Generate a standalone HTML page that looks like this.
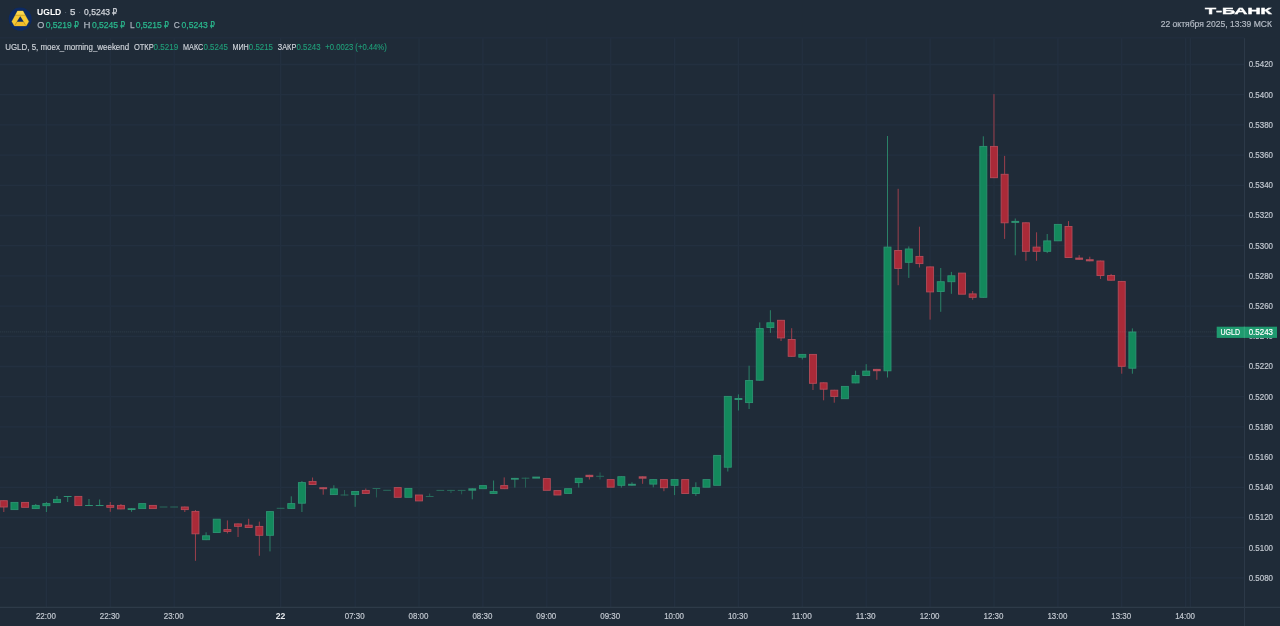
<!DOCTYPE html>
<html lang="ru">
<head>
<meta charset="utf-8">
<title>UGLD · 5 · Т-Банк</title>
<style>
html,body{margin:0;padding:0;background:#1f2b38;}
body{width:1280px;height:626px;overflow:hidden;position:relative;font-family:"Liberation Sans",sans-serif;color:#fff;}
svg{position:absolute;left:0;top:0;display:block;}
svg text{font-family:"Liberation Sans","DejaVu Sans",sans-serif;}
.rub{font-family:"DejaVu Sans",sans-serif;font-size:8.9px;}
svg{will-change:transform;}
.sym{fill:#fff;font-weight:bold;}
.dot{fill:#5a6573;}
.val{fill:#d3d7dd;stroke:#d3d7dd;stroke-width:0.25px;}
.lab{fill:#a9b1bb;stroke:#a9b1bb;stroke-width:0.25px;}
.up{fill:#2ab88d;stroke:#2ab88d;stroke-width:0.25px;}
.lab2{fill:#d0d5db;stroke:#d0d5db;stroke-width:0.15px;}
.up2{fill:#21a07a;stroke:#21a07a;stroke-width:0.1px;}
.brand{fill:#fff;font-weight:bold;stroke:#fff;stroke-width:0.35px;}
.date{fill:#b3bac4;stroke:#b3bac4;stroke-width:0.2px;}
</style>
</head>
<body>
<svg class="chart" width="1280" height="626" viewBox="0 0 1280 626">
<g class="grid" stroke="#233040" stroke-width="1.3">
<line x1="0" y1="64.5" x2="1244.5" y2="64.5"/>
<line x1="0" y1="94.7" x2="1244.5" y2="94.7"/>
<line x1="0" y1="124.9" x2="1244.5" y2="124.9"/>
<line x1="0" y1="155.1" x2="1244.5" y2="155.1"/>
<line x1="0" y1="185.3" x2="1244.5" y2="185.3"/>
<line x1="0" y1="215.5" x2="1244.5" y2="215.5"/>
<line x1="0" y1="245.7" x2="1244.5" y2="245.7"/>
<line x1="0" y1="275.9" x2="1244.5" y2="275.9"/>
<line x1="0" y1="306.1" x2="1244.5" y2="306.1"/>
<line x1="0" y1="336.3" x2="1244.5" y2="336.3"/>
<line x1="0" y1="366.5" x2="1244.5" y2="366.5"/>
<line x1="0" y1="396.7" x2="1244.5" y2="396.7"/>
<line x1="0" y1="426.9" x2="1244.5" y2="426.9"/>
<line x1="0" y1="457.1" x2="1244.5" y2="457.1"/>
<line x1="0" y1="487.3" x2="1244.5" y2="487.3"/>
<line x1="0" y1="517.5" x2="1244.5" y2="517.5"/>
<line x1="0" y1="547.7" x2="1244.5" y2="547.7"/>
<line x1="0" y1="577.9" x2="1244.5" y2="577.9"/>
<line x1="46.4" y1="38" x2="46.4" y2="607.3"/>
<line x1="110.3" y1="38" x2="110.3" y2="607.3"/>
<line x1="174.2" y1="38" x2="174.2" y2="607.3"/>
<line x1="280.6" y1="38" x2="280.6" y2="607.3"/>
<line x1="355.2" y1="38" x2="355.2" y2="607.3"/>
<line x1="419.0" y1="38" x2="419.0" y2="607.3"/>
<line x1="482.9" y1="38" x2="482.9" y2="607.3"/>
<line x1="546.8" y1="38" x2="546.8" y2="607.3"/>
<line x1="610.7" y1="38" x2="610.7" y2="607.3"/>
<line x1="674.6" y1="38" x2="674.6" y2="607.3"/>
<line x1="738.4" y1="38" x2="738.4" y2="607.3"/>
<line x1="802.3" y1="38" x2="802.3" y2="607.3"/>
<line x1="866.2" y1="38" x2="866.2" y2="607.3"/>
<line x1="930.1" y1="38" x2="930.1" y2="607.3"/>
<line x1="994.0" y1="38" x2="994.0" y2="607.3"/>
<line x1="1057.9" y1="38" x2="1057.9" y2="607.3"/>
<line x1="1121.7" y1="38" x2="1121.7" y2="607.3"/>
<line x1="1185.6" y1="38" x2="1185.6" y2="607.3"/>
<line x1="1190.4" y1="38" x2="1190.4" y2="607.3"/>
</g>
<g class="axes" stroke="#364250" stroke-width="1">
<line x1="0" y1="607.3" x2="1280" y2="607.3" stroke="#33404e"/>
<line x1="1244.5" y1="38" x2="1244.5" y2="626" stroke="#2c3948"/>
<line x1="0" y1="37.9" x2="1244.5" y2="37.9" stroke="#233040"/>
</g>
<g class="candles">
<g><rect x="3.30" y="500.3" width="1" height="11.7" fill="#9c3f4c"/><rect x="0.30" y="500.7" width="7" height="6.3" fill="#aa2a38" stroke="#b44c5a" stroke-width="0.9"/></g>
<g><rect x="10.95" y="502.4" width="7" height="7.2" fill="#13895c" stroke="#2e9373" stroke-width="0.9"/></g>
<g><rect x="21.59" y="502.4" width="7" height="4.9" fill="#aa2a38" stroke="#b44c5a" stroke-width="0.9"/></g>
<g><rect x="35.24" y="504.0" width="1" height="5.0" fill="#2a8267"/><rect x="32.24" y="505.4" width="7" height="3.2" fill="#13895c" stroke="#2e9373" stroke-width="0.9"/></g>
<g><rect x="45.89" y="502.0" width="1" height="10.0" fill="#2a8267"/><rect x="42.89" y="503.6" width="7" height="2.1" fill="#13895c" stroke="#2e9373" stroke-width="0.9"/></g>
<g><rect x="56.53" y="496.0" width="1" height="7.0" fill="#2a8267"/><rect x="53.53" y="499.4" width="7" height="3.2" fill="#13895c" stroke="#2e9373" stroke-width="0.9"/></g>
<g><rect x="67.18" y="496.0" width="1" height="6.0" fill="#2a8267"/><rect x="63.78" y="496.0" width="7.8" height="1.0" fill="#2e9373"/></g>
<g><rect x="74.83" y="496.4" width="7" height="9.2" fill="#aa2a38" stroke="#b44c5a" stroke-width="0.9"/></g>
<g><rect x="88.48" y="499.0" width="1" height="7.0" fill="#2a8267"/><rect x="85.08" y="505.0" width="7.8" height="1.0" fill="#2e9373"/></g>
<g><rect x="99.12" y="499.5" width="1" height="6.5" fill="#2a8267"/><rect x="95.72" y="505.0" width="7.8" height="1.0" fill="#2e9373"/></g>
<g><rect x="109.77" y="502.0" width="1" height="9.8" fill="#9c3f4c"/><rect x="106.77" y="505.4" width="7" height="1.9" fill="#aa2a38" stroke="#b44c5a" stroke-width="0.9"/></g>
<g><rect x="120.42" y="504.0" width="1" height="5.3" fill="#9c3f4c"/><rect x="117.42" y="505.4" width="7" height="3.5" fill="#aa2a38" stroke="#b44c5a" stroke-width="0.9"/></g>
<g><rect x="131.06" y="508.2" width="1" height="3.6" fill="#2a8267"/><rect x="127.66" y="508.2" width="7.8" height="1.8" fill="#2e9373"/></g>
<g><rect x="138.71" y="503.6" width="7" height="5.0" fill="#13895c" stroke="#2e9373" stroke-width="0.9"/></g>
<g><rect x="149.36" y="505.4" width="7" height="3.2" fill="#aa2a38" stroke="#b44c5a" stroke-width="0.9"/></g>
<g opacity="0.62"><rect x="159.61" y="506.5" width="7.8" height="1.0" fill="#2e9373"/></g>
<g opacity="0.62"><rect x="170.25" y="506.5" width="7.8" height="1.0" fill="#2e9373"/></g>
<g><rect x="184.30" y="506.6" width="1" height="5.4" fill="#9c3f4c"/><rect x="181.30" y="507.0" width="7" height="2.6" fill="#aa2a38" stroke="#b44c5a" stroke-width="0.9"/></g>
<g><rect x="194.95" y="510.0" width="1" height="50.8" fill="#9c3f4c"/><rect x="191.95" y="511.4" width="7" height="22.4" fill="#aa2a38" stroke="#b44c5a" stroke-width="0.9"/></g>
<g><rect x="205.59" y="532.3" width="1" height="7.8" fill="#2a8267"/><rect x="202.59" y="535.8" width="7" height="3.9" fill="#13895c" stroke="#2e9373" stroke-width="0.9"/></g>
<g><rect x="213.24" y="519.2" width="7" height="13.3" fill="#13895c" stroke="#2e9373" stroke-width="0.9"/></g>
<g><rect x="226.89" y="520.4" width="1" height="13.0" fill="#9c3f4c"/><rect x="223.89" y="529.6" width="7" height="1.8" fill="#aa2a38" stroke="#b44c5a" stroke-width="0.9"/></g>
<g><rect x="237.53" y="523.5" width="1" height="13.5" fill="#9c3f4c"/><rect x="234.53" y="523.9" width="7" height="2.4" fill="#aa2a38" stroke="#b44c5a" stroke-width="0.9"/></g>
<g><rect x="248.18" y="518.8" width="1" height="9.1" fill="#9c3f4c"/><rect x="245.18" y="525.2" width="7" height="2.3" fill="#aa2a38" stroke="#b44c5a" stroke-width="0.9"/></g>
<g><rect x="258.83" y="521.6" width="1" height="34.2" fill="#9c3f4c"/><rect x="255.83" y="526.4" width="7" height="8.9" fill="#aa2a38" stroke="#b44c5a" stroke-width="0.9"/></g>
<g><rect x="269.48" y="511.2" width="1" height="40.2" fill="#2a8267"/><rect x="266.48" y="511.6" width="7" height="23.7" fill="#13895c" stroke="#2e9373" stroke-width="0.9"/></g>
<g opacity="0.62"><rect x="276.72" y="507.8" width="7.8" height="1.0" fill="#2e9373"/></g>
<g><rect x="290.77" y="496.3" width="1" height="12.5" fill="#2a8267"/><rect x="287.77" y="503.6" width="7" height="4.8" fill="#13895c" stroke="#2e9373" stroke-width="0.9"/></g>
<g><rect x="301.42" y="481.0" width="1" height="31.0" fill="#2a8267"/><rect x="298.42" y="482.6" width="7" height="20.6" fill="#13895c" stroke="#2e9373" stroke-width="0.9"/></g>
<g><rect x="312.06" y="477.5" width="1" height="7.4" fill="#9c3f4c"/><rect x="309.06" y="481.4" width="7" height="3.1" fill="#aa2a38" stroke="#b44c5a" stroke-width="0.9"/></g>
<g><rect x="322.71" y="487.2" width="1" height="7.5" fill="#9c3f4c"/><rect x="319.31" y="487.2" width="7.8" height="2.0" fill="#b44c5a"/></g>
<g><rect x="333.36" y="485.3" width="1" height="9.7" fill="#2a8267"/><rect x="330.36" y="488.9" width="7" height="5.7" fill="#13895c" stroke="#2e9373" stroke-width="0.9"/></g>
<g opacity="0.62"><rect x="344.00" y="490.0" width="1" height="5.5" fill="#2a8267"/><rect x="340.60" y="494.5" width="7.8" height="1.0" fill="#2e9373"/></g>
<g><rect x="354.65" y="491.1" width="1" height="15.7" fill="#2a8267"/><rect x="351.65" y="491.5" width="7" height="3.1" fill="#13895c" stroke="#2e9373" stroke-width="0.9"/></g>
<g><rect x="365.30" y="488.5" width="1" height="5.3" fill="#9c3f4c"/><rect x="362.30" y="490.4" width="7" height="3.0" fill="#aa2a38" stroke="#b44c5a" stroke-width="0.9"/></g>
<g opacity="0.62"><rect x="375.94" y="488.0" width="1" height="9.4" fill="#2a8267"/><rect x="372.55" y="488.0" width="7.8" height="1.0" fill="#2e9373"/></g>
<g opacity="0.62"><rect x="383.19" y="489.8" width="7.8" height="1.0" fill="#2e9373"/></g>
<g><rect x="394.24" y="487.6" width="7" height="9.7" fill="#aa2a38" stroke="#b44c5a" stroke-width="0.9"/></g>
<g><rect x="404.89" y="488.4" width="7" height="8.9" fill="#13895c" stroke="#2e9373" stroke-width="0.9"/></g>
<g><rect x="415.53" y="495.0" width="7" height="5.9" fill="#aa2a38" stroke="#b44c5a" stroke-width="0.9"/></g>
<g opacity="0.62"><rect x="429.18" y="493.5" width="1" height="3.5" fill="#2a8267"/><rect x="425.78" y="496.0" width="7.8" height="1.0" fill="#2e9373"/></g>
<g opacity="0.62"><rect x="436.43" y="489.9" width="7.8" height="1.0" fill="#2e9373"/></g>
<g opacity="0.62"><rect x="450.47" y="489.9" width="1" height="3.1" fill="#2a8267"/><rect x="447.07" y="489.9" width="7.8" height="1.0" fill="#2e9373"/></g>
<g opacity="0.62"><rect x="461.12" y="489.9" width="1" height="4.4" fill="#2a8267"/><rect x="457.72" y="489.9" width="7.8" height="1.0" fill="#2e9373"/></g>
<g><rect x="471.77" y="488.3" width="1" height="11.0" fill="#2a8267"/><rect x="468.37" y="488.3" width="7.8" height="2.4" fill="#2e9373"/></g>
<g><rect x="479.42" y="485.6" width="7" height="3.1" fill="#13895c" stroke="#2e9373" stroke-width="0.9"/></g>
<g><rect x="493.06" y="480.5" width="1" height="13.3" fill="#2a8267"/><rect x="490.06" y="491.6" width="7" height="1.8" fill="#13895c" stroke="#2e9373" stroke-width="0.9"/></g>
<g><rect x="503.71" y="477.4" width="1" height="11.7" fill="#9c3f4c"/><rect x="500.71" y="485.6" width="7" height="3.1" fill="#aa2a38" stroke="#b44c5a" stroke-width="0.9"/></g>
<g><rect x="514.36" y="477.9" width="1" height="9.7" fill="#2a8267"/><rect x="510.96" y="477.9" width="7.8" height="1.8" fill="#2e9373"/></g>
<g opacity="0.62"><rect x="525.00" y="477.7" width="1" height="9.9" fill="#2a8267"/><rect x="521.60" y="477.7" width="7.8" height="1.0" fill="#2e9373"/></g>
<g><rect x="532.25" y="476.6" width="7.8" height="2.0" fill="#2e9373"/></g>
<g><rect x="543.30" y="478.6" width="7" height="11.7" fill="#aa2a38" stroke="#b44c5a" stroke-width="0.9"/></g>
<g><rect x="553.94" y="490.6" width="7" height="4.4" fill="#aa2a38" stroke="#b44c5a" stroke-width="0.9"/></g>
<g><rect x="564.59" y="488.7" width="7" height="4.7" fill="#13895c" stroke="#2e9373" stroke-width="0.9"/></g>
<g><rect x="578.24" y="477.9" width="1" height="9.7" fill="#2a8267"/><rect x="575.24" y="478.3" width="7" height="4.3" fill="#13895c" stroke="#2e9373" stroke-width="0.9"/></g>
<g><rect x="588.88" y="474.8" width="1" height="4.7" fill="#9c3f4c"/><rect x="585.49" y="474.8" width="7.8" height="2.3" fill="#b44c5a"/></g>
<g opacity="0.62"><rect x="599.53" y="472.4" width="1" height="7.1" fill="#2a8267"/><rect x="596.13" y="475.8" width="7.8" height="1.0" fill="#2e9373"/></g>
<g><rect x="607.18" y="479.6" width="7" height="7.6" fill="#aa2a38" stroke="#b44c5a" stroke-width="0.9"/></g>
<g><rect x="620.83" y="476.3" width="1" height="11.3" fill="#2a8267"/><rect x="617.83" y="476.7" width="7" height="8.6" fill="#13895c" stroke="#2e9373" stroke-width="0.9"/></g>
<g><rect x="631.47" y="482.3" width="1" height="3.4" fill="#2a8267"/><rect x="628.07" y="483.8" width="7.8" height="1.9" fill="#2e9373"/></g>
<g><rect x="642.12" y="476.3" width="1" height="7.5" fill="#9c3f4c"/><rect x="638.72" y="476.3" width="7.8" height="2.4" fill="#b44c5a"/></g>
<g><rect x="652.77" y="479.2" width="1" height="8.1" fill="#2a8267"/><rect x="649.77" y="479.6" width="7" height="4.5" fill="#13895c" stroke="#2e9373" stroke-width="0.9"/></g>
<g><rect x="663.41" y="479.2" width="1" height="12.0" fill="#9c3f4c"/><rect x="660.41" y="479.6" width="7" height="8.1" fill="#aa2a38" stroke="#b44c5a" stroke-width="0.9"/></g>
<g><rect x="674.06" y="479.2" width="1" height="15.9" fill="#2a8267"/><rect x="671.06" y="479.6" width="7" height="5.7" fill="#13895c" stroke="#2e9373" stroke-width="0.9"/></g>
<g><rect x="681.71" y="479.6" width="7" height="13.9" fill="#aa2a38" stroke="#b44c5a" stroke-width="0.9"/></g>
<g><rect x="695.36" y="482.3" width="1" height="13.6" fill="#2a8267"/><rect x="692.36" y="487.7" width="7" height="5.8" fill="#13895c" stroke="#2e9373" stroke-width="0.9"/></g>
<g><rect x="703.00" y="479.6" width="7" height="7.6" fill="#13895c" stroke="#2e9373" stroke-width="0.9"/></g>
<g><rect x="713.65" y="455.4" width="7" height="29.9" fill="#13895c" stroke="#2e9373" stroke-width="0.9"/></g>
<g><rect x="727.30" y="396.0" width="1" height="75.5" fill="#2a8267"/><rect x="724.30" y="396.4" width="7" height="70.8" fill="#13895c" stroke="#2e9373" stroke-width="0.9"/></g>
<g><rect x="737.94" y="394.4" width="1" height="16.1" fill="#2a8267"/><rect x="734.54" y="398.0" width="7.8" height="2.0" fill="#2e9373"/></g>
<g><rect x="748.59" y="365.7" width="1" height="43.3" fill="#2a8267"/><rect x="745.59" y="380.5" width="7" height="22.1" fill="#13895c" stroke="#2e9373" stroke-width="0.9"/></g>
<g><rect x="759.24" y="322.4" width="1" height="58.2" fill="#2a8267"/><rect x="756.24" y="328.6" width="7" height="51.6" fill="#13895c" stroke="#2e9373" stroke-width="0.9"/></g>
<g><rect x="769.88" y="310.2" width="1" height="22.7" fill="#2a8267"/><rect x="766.88" y="322.8" width="7" height="4.7" fill="#13895c" stroke="#2e9373" stroke-width="0.9"/></g>
<g><rect x="780.53" y="319.9" width="1" height="21.1" fill="#9c3f4c"/><rect x="777.53" y="320.3" width="7" height="17.6" fill="#aa2a38" stroke="#b44c5a" stroke-width="0.9"/></g>
<g><rect x="791.18" y="328.2" width="1" height="28.5" fill="#9c3f4c"/><rect x="788.18" y="339.5" width="7" height="16.8" fill="#aa2a38" stroke="#b44c5a" stroke-width="0.9"/></g>
<g><rect x="801.82" y="354.0" width="1" height="5.5" fill="#2a8267"/><rect x="798.82" y="354.4" width="7" height="2.8" fill="#13895c" stroke="#2e9373" stroke-width="0.9"/></g>
<g><rect x="812.47" y="354.0" width="1" height="36.0" fill="#9c3f4c"/><rect x="809.47" y="354.4" width="7" height="28.9" fill="#aa2a38" stroke="#b44c5a" stroke-width="0.9"/></g>
<g><rect x="823.12" y="382.4" width="1" height="17.9" fill="#9c3f4c"/><rect x="820.12" y="382.8" width="7" height="6.4" fill="#aa2a38" stroke="#b44c5a" stroke-width="0.9"/></g>
<g><rect x="833.77" y="389.8" width="1" height="12.9" fill="#9c3f4c"/><rect x="830.77" y="390.2" width="7" height="6.2" fill="#aa2a38" stroke="#b44c5a" stroke-width="0.9"/></g>
<g><rect x="841.41" y="386.4" width="7" height="12.3" fill="#13895c" stroke="#2e9373" stroke-width="0.9"/></g>
<g><rect x="855.06" y="370.7" width="1" height="12.6" fill="#2a8267"/><rect x="852.06" y="375.5" width="7" height="7.4" fill="#13895c" stroke="#2e9373" stroke-width="0.9"/></g>
<g><rect x="865.71" y="364.2" width="1" height="11.7" fill="#2a8267"/><rect x="862.71" y="371.1" width="7" height="4.4" fill="#13895c" stroke="#2e9373" stroke-width="0.9"/></g>
<g><rect x="876.35" y="368.9" width="1" height="10.9" fill="#9c3f4c"/><rect x="872.95" y="368.9" width="7.8" height="2.3" fill="#b44c5a"/></g>
<g><rect x="887.00" y="136.0" width="1" height="241.5" fill="#2a8267"/><rect x="884.00" y="247.1" width="7" height="123.7" fill="#13895c" stroke="#2e9373" stroke-width="0.9"/></g>
<g><rect x="897.65" y="188.8" width="1" height="96.4" fill="#9c3f4c"/><rect x="894.65" y="250.5" width="7" height="17.9" fill="#aa2a38" stroke="#b44c5a" stroke-width="0.9"/></g>
<g><rect x="908.29" y="246.4" width="1" height="31.5" fill="#2a8267"/><rect x="905.29" y="249.0" width="7" height="13.3" fill="#13895c" stroke="#2e9373" stroke-width="0.9"/></g>
<g><rect x="918.94" y="226.7" width="1" height="40.8" fill="#9c3f4c"/><rect x="915.94" y="256.4" width="7" height="7.2" fill="#aa2a38" stroke="#b44c5a" stroke-width="0.9"/></g>
<g><rect x="929.59" y="266.5" width="1" height="53.1" fill="#9c3f4c"/><rect x="926.59" y="266.9" width="7" height="25.0" fill="#aa2a38" stroke="#b44c5a" stroke-width="0.9"/></g>
<g><rect x="940.24" y="268.0" width="1" height="43.8" fill="#2a8267"/><rect x="937.24" y="281.7" width="7" height="9.8" fill="#13895c" stroke="#2e9373" stroke-width="0.9"/></g>
<g><rect x="950.88" y="271.9" width="1" height="21.9" fill="#2a8267"/><rect x="947.88" y="275.8" width="7" height="5.9" fill="#13895c" stroke="#2e9373" stroke-width="0.9"/></g>
<g><rect x="958.53" y="273.1" width="7" height="21.1" fill="#aa2a38" stroke="#b44c5a" stroke-width="0.9"/></g>
<g><rect x="972.18" y="291.0" width="1" height="8.8" fill="#9c3f4c"/><rect x="969.18" y="293.9" width="7" height="3.4" fill="#aa2a38" stroke="#b44c5a" stroke-width="0.9"/></g>
<g><rect x="982.82" y="136.3" width="1" height="161.4" fill="#2a8267"/><rect x="979.82" y="146.4" width="7" height="150.9" fill="#13895c" stroke="#2e9373" stroke-width="0.9"/></g>
<g><rect x="993.47" y="94.1" width="1" height="84.0" fill="#9c3f4c"/><rect x="990.47" y="146.4" width="7" height="31.3" fill="#aa2a38" stroke="#b44c5a" stroke-width="0.9"/></g>
<g><rect x="1004.12" y="155.9" width="1" height="83.0" fill="#9c3f4c"/><rect x="1001.12" y="174.3" width="7" height="48.5" fill="#aa2a38" stroke="#b44c5a" stroke-width="0.9"/></g>
<g><rect x="1014.76" y="218.5" width="1" height="36.8" fill="#2a8267"/><rect x="1011.37" y="220.9" width="7.8" height="2.0" fill="#2e9373"/></g>
<g><rect x="1025.41" y="222.4" width="1" height="38.4" fill="#9c3f4c"/><rect x="1022.41" y="222.8" width="7" height="28.5" fill="#aa2a38" stroke="#b44c5a" stroke-width="0.9"/></g>
<g><rect x="1036.06" y="232.3" width="1" height="28.5" fill="#9c3f4c"/><rect x="1033.06" y="247.1" width="7" height="4.2" fill="#aa2a38" stroke="#b44c5a" stroke-width="0.9"/></g>
<g><rect x="1046.71" y="234.0" width="1" height="19.1" fill="#2a8267"/><rect x="1043.71" y="240.9" width="7" height="10.4" fill="#13895c" stroke="#2e9373" stroke-width="0.9"/></g>
<g><rect x="1054.35" y="224.4" width="7" height="16.4" fill="#13895c" stroke="#2e9373" stroke-width="0.9"/></g>
<g><rect x="1068.00" y="221.1" width="1" height="36.8" fill="#9c3f4c"/><rect x="1065.00" y="226.5" width="7" height="31.0" fill="#aa2a38" stroke="#b44c5a" stroke-width="0.9"/></g>
<g><rect x="1078.65" y="255.1" width="1" height="4.7" fill="#9c3f4c"/><rect x="1075.25" y="257.6" width="7.8" height="2.2" fill="#b44c5a"/></g>
<g><rect x="1089.29" y="256.7" width="1" height="4.6" fill="#9c3f4c"/><rect x="1085.89" y="259.2" width="7.8" height="2.1" fill="#b44c5a"/></g>
<g><rect x="1099.94" y="260.6" width="1" height="18.4" fill="#9c3f4c"/><rect x="1096.94" y="261.0" width="7" height="14.5" fill="#aa2a38" stroke="#b44c5a" stroke-width="0.9"/></g>
<g><rect x="1110.59" y="273.9" width="1" height="6.7" fill="#9c3f4c"/><rect x="1107.59" y="275.5" width="7" height="4.7" fill="#aa2a38" stroke="#b44c5a" stroke-width="0.9"/></g>
<g><rect x="1121.23" y="281.0" width="1" height="92.7" fill="#9c3f4c"/><rect x="1118.23" y="281.4" width="7" height="84.9" fill="#aa2a38" stroke="#b44c5a" stroke-width="0.9"/></g>
<g><rect x="1131.88" y="328.4" width="1" height="45.3" fill="#2a8267"/><rect x="1128.88" y="332.0" width="7" height="36.2" fill="#13895c" stroke="#2e9373" stroke-width="0.9"/></g>
</g>
<line class="priceline" x1="0" y1="331.9" x2="1217" y2="331.9" stroke="#9fb4bd" stroke-width="1" stroke-dasharray="1.3 0.7" opacity="0.11"/>
<g class="yaxis" fill="#c3c9d1" stroke="#c3c9d1" stroke-width="0.2" font-size="9.5">
<text x="1248.7" y="67.4" textLength="24.3" lengthAdjust="spacingAndGlyphs">0.5420</text>
<text x="1248.7" y="97.6" textLength="24.3" lengthAdjust="spacingAndGlyphs">0.5400</text>
<text x="1248.7" y="127.8" textLength="24.3" lengthAdjust="spacingAndGlyphs">0.5380</text>
<text x="1248.7" y="158.0" textLength="24.3" lengthAdjust="spacingAndGlyphs">0.5360</text>
<text x="1248.7" y="188.2" textLength="24.3" lengthAdjust="spacingAndGlyphs">0.5340</text>
<text x="1248.7" y="218.4" textLength="24.3" lengthAdjust="spacingAndGlyphs">0.5320</text>
<text x="1248.7" y="248.6" textLength="24.3" lengthAdjust="spacingAndGlyphs">0.5300</text>
<text x="1248.7" y="278.8" textLength="24.3" lengthAdjust="spacingAndGlyphs">0.5280</text>
<text x="1248.7" y="309.0" textLength="24.3" lengthAdjust="spacingAndGlyphs">0.5260</text>
<text x="1248.7" y="339.2" textLength="24.3" lengthAdjust="spacingAndGlyphs">0.5240</text>
<text x="1248.7" y="369.4" textLength="24.3" lengthAdjust="spacingAndGlyphs">0.5220</text>
<text x="1248.7" y="399.6" textLength="24.3" lengthAdjust="spacingAndGlyphs">0.5200</text>
<text x="1248.7" y="429.8" textLength="24.3" lengthAdjust="spacingAndGlyphs">0.5180</text>
<text x="1248.7" y="460.0" textLength="24.3" lengthAdjust="spacingAndGlyphs">0.5160</text>
<text x="1248.7" y="490.2" textLength="24.3" lengthAdjust="spacingAndGlyphs">0.5140</text>
<text x="1248.7" y="520.4" textLength="24.3" lengthAdjust="spacingAndGlyphs">0.5120</text>
<text x="1248.7" y="550.6" textLength="24.3" lengthAdjust="spacingAndGlyphs">0.5100</text>
<text x="1248.7" y="580.8" textLength="24.3" lengthAdjust="spacingAndGlyphs">0.5080</text>
</g>
<g class="pricetag">
<rect x="1216.7" y="326.7" width="60.3" height="11.2" fill="#1f9a6f"/>
<rect x="1243.8" y="326.7" width="1" height="11.2" fill="#38a881"/>
<text x="1220.5" y="335.2" fill="#ffffff" stroke="#ffffff" stroke-width="0.2" font-size="9.5" textLength="19.5" lengthAdjust="spacingAndGlyphs">UGLD</text>
<text x="1248.7" y="335.2" fill="#ffffff" stroke="#ffffff" stroke-width="0.2" font-size="9.5" textLength="24.3" lengthAdjust="spacingAndGlyphs">0.5243</text>
</g>
<g class="xaxis" fill="#c3c9d1" stroke="#c3c9d1" stroke-width="0.2" font-size="9.5" text-anchor="middle">
<text x="45.9" y="619.4" textLength="19.9" lengthAdjust="spacingAndGlyphs">22:00</text>
<text x="109.8" y="619.4" textLength="19.9" lengthAdjust="spacingAndGlyphs">22:30</text>
<text x="173.7" y="619.4" textLength="19.9" lengthAdjust="spacingAndGlyphs">23:00</text>
<text x="280.6" y="619.4" font-weight="bold" fill="#e6e9ed" stroke="none" textLength="9.6" lengthAdjust="spacingAndGlyphs">22</text>
<text x="354.7" y="619.4" textLength="19.9" lengthAdjust="spacingAndGlyphs">07:30</text>
<text x="418.5" y="619.4" textLength="19.9" lengthAdjust="spacingAndGlyphs">08:00</text>
<text x="482.4" y="619.4" textLength="19.9" lengthAdjust="spacingAndGlyphs">08:30</text>
<text x="546.3" y="619.4" textLength="19.9" lengthAdjust="spacingAndGlyphs">09:00</text>
<text x="610.2" y="619.4" textLength="19.9" lengthAdjust="spacingAndGlyphs">09:30</text>
<text x="674.1" y="619.4" textLength="19.9" lengthAdjust="spacingAndGlyphs">10:00</text>
<text x="737.9" y="619.4" textLength="19.9" lengthAdjust="spacingAndGlyphs">10:30</text>
<text x="801.8" y="619.4" textLength="19.9" lengthAdjust="spacingAndGlyphs">11:00</text>
<text x="865.7" y="619.4" textLength="19.9" lengthAdjust="spacingAndGlyphs">11:30</text>
<text x="929.6" y="619.4" textLength="19.9" lengthAdjust="spacingAndGlyphs">12:00</text>
<text x="993.5" y="619.4" textLength="19.9" lengthAdjust="spacingAndGlyphs">12:30</text>
<text x="1057.4" y="619.4" textLength="19.9" lengthAdjust="spacingAndGlyphs">13:00</text>
<text x="1121.2" y="619.4" textLength="19.9" lengthAdjust="spacingAndGlyphs">13:30</text>
<text x="1185.1" y="619.4" textLength="19.9" lengthAdjust="spacingAndGlyphs">14:00</text>
</g>
</svg>
<svg class="hdr" width="1280" height="60" viewBox="0 0 1280 60">
<g class="logo">
<circle cx="20.2" cy="19.1" r="11.5" fill="#0d2a63"/>
<path d="M17.6 10.9h5.3l5.9 10.7-2.6 4.3H14.4l-2.6-4.3z" fill="#f6c833" stroke="#f6c833" stroke-width="0.3" stroke-linejoin="round"/>
<path d="M17.6 10.9h5.3l1.9 4.1H15.7z" fill="#fbd64e"/>
<path d="M16.6 22.1h7.3l2.3 3.8H14.4z" fill="#f0bb2a"/>
<path d="M20.25 16.2l3.5 5.5h-7z" fill="#0d2a63"/>
<path d="M15.5 15.2h9.4M16.9 21.8l-2.3 3.9M23.6 21.8l2.3 3.9" stroke="#8a6512" stroke-width="0.5" fill="none" opacity="0.8"/>
</g>
<g class="title" font-size="9.7">
<text x="37.1" y="14.9" textLength="24.2" lengthAdjust="spacingAndGlyphs" class="sym">UGLD</text>
<text x="65.6" y="14.9" class="dot" text-anchor="middle">·</text>
<text x="69.9" y="14.9" class="val">5</text>
<text x="79.7" y="14.9" class="dot" text-anchor="middle">·</text>
<text x="84.1" y="14.9" textLength="26.0" lengthAdjust="spacingAndGlyphs" class="val">0,5243</text>
<text x="112.3" y="14.9" textLength="4.9" lengthAdjust="spacingAndGlyphs" class="val rub">₽</text>
</g>
<g class="ohlc" font-size="9.9">
<text x="37.3" y="28.0" textLength="7.1" lengthAdjust="spacingAndGlyphs" class="lab">O</text>
<text x="45.7" y="28.0" textLength="26.2" lengthAdjust="spacingAndGlyphs" class="up">0,5219</text>
<text x="74.1" y="28.0" textLength="4.9" lengthAdjust="spacingAndGlyphs" class="up rub">₽</text>
<text x="83.5" y="28.0" textLength="7.0" lengthAdjust="spacingAndGlyphs" class="lab">H</text>
<text x="91.9" y="28.0" textLength="26.2" lengthAdjust="spacingAndGlyphs" class="up">0,5245</text>
<text x="120.3" y="28.0" textLength="4.9" lengthAdjust="spacingAndGlyphs" class="up rub">₽</text>
<text x="130.0" y="28.0" textLength="4.6" lengthAdjust="spacingAndGlyphs" class="lab">L</text>
<text x="135.7" y="28.0" textLength="26.2" lengthAdjust="spacingAndGlyphs" class="up">0,5215</text>
<text x="164.1" y="28.0" textLength="4.9" lengthAdjust="spacingAndGlyphs" class="up rub">₽</text>
<text x="173.8" y="28.0" textLength="6.0" lengthAdjust="spacingAndGlyphs" class="lab">C</text>
<text x="181.5" y="28.0" textLength="26.2" lengthAdjust="spacingAndGlyphs" class="up">0,5243</text>
<text x="209.9" y="28.0" textLength="4.9" lengthAdjust="spacingAndGlyphs" class="up rub">₽</text>
</g>
<g class="legend" font-size="8.2">
<text x="5.2" y="50.4" textLength="123.9" lengthAdjust="spacingAndGlyphs" class="lab2">UGLD, 5, moex_morning_weekend</text>
<text x="133.9" y="50.4" textLength="19.8" lengthAdjust="spacingAndGlyphs" class="lab2">ОТКР</text>
<text x="153.6" y="50.4" textLength="24.6" lengthAdjust="spacingAndGlyphs" class="up2">0.5219</text>
<text x="183.1" y="50.4" textLength="20.2" lengthAdjust="spacingAndGlyphs" class="lab2">МАКС</text>
<text x="203.5" y="50.4" textLength="24.3" lengthAdjust="spacingAndGlyphs" class="up2">0.5245</text>
<text x="232.4" y="50.4" textLength="16.4" lengthAdjust="spacingAndGlyphs" class="lab2">МИН</text>
<text x="248.8" y="50.4" textLength="24.2" lengthAdjust="spacingAndGlyphs" class="up2">0.5215</text>
<text x="277.8" y="50.4" textLength="18.5" lengthAdjust="spacingAndGlyphs" class="lab2">ЗАКР</text>
<text x="296.5" y="50.4" textLength="24.0" lengthAdjust="spacingAndGlyphs" class="up2">0.5243</text>
<text x="325.3" y="50.4" textLength="61.4" lengthAdjust="spacingAndGlyphs" class="up2">+0.0023 (+0.44%)</text>
</g>
<g class="brandbox">
<text x="1204.9" y="14.4" textLength="66.8" lengthAdjust="spacingAndGlyphs" class="brand" font-size="9.6">Т-БАНК</text>
<text x="1160.7" y="27.3" textLength="111.3" lengthAdjust="spacingAndGlyphs" class="date" font-size="8.6">22 октября 2025, 13:39 МСК</text>
</g>
</svg>
</body>
</html>
